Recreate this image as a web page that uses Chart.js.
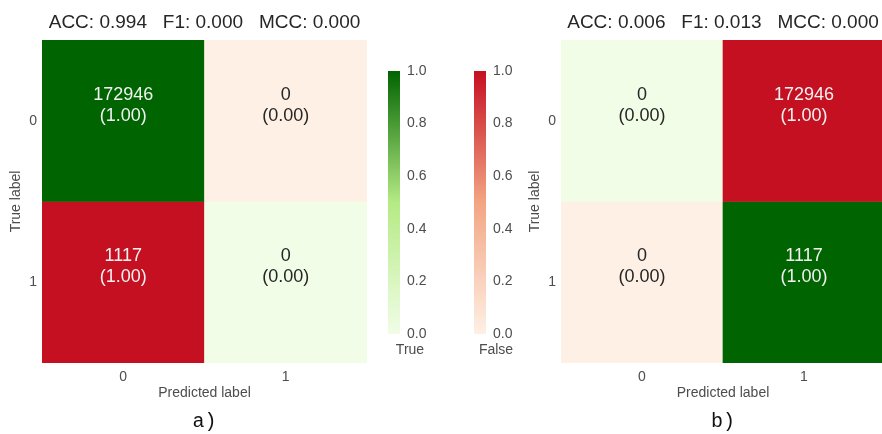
<!DOCTYPE html>
<html>
<head>
<meta charset="utf-8">
<script src="https://cdn.jsdelivr.net/npm/chart.js@4.4.1/dist/chart.umd.min.js"></script>
<style>
  html, body { margin: 0; padding: 0; background: #ffffff; overflow: hidden; }
  #stage { position: relative; width: 882px; height: 434px; overflow: hidden; }
  #stage canvas { position: absolute; top: 0; }
</style>
</head>
<body>
<div id="stage">
  <canvas id="cmA" width="375" height="434" style="left:0px"></canvas>
  <canvas id="cbTrue" width="50" height="434" style="left:380px"></canvas>
  <canvas id="cbFalse" width="50" height="434" style="left:466px"></canvas>
  <canvas id="cmB" width="366" height="434" style="left:519px"></canvas>
</div>
<script>
// ---- data ----
const classes = ['0', '1'];
const metricNames = ['ACC', 'F1', 'MCC'];

const countsA = [[172946, 0], [1117, 0]];
const ratesA = [[1.00, 0.00], [1.00, 0.00]];
const metricsA = [0.994, 0.000, 0.000];

const countsB = [[0, 172946], [0, 1117]];
const ratesB = [[0.00, 1.00], [0.00, 1.00]];
const metricsB = [0.006, 0.013, 0.000];

const colorbarTicks = [0.0, 0.2, 0.4, 0.6, 0.8, 1.0];
const colorbarLabels = ['True', 'False'];
const panelCaptions = ['a)', 'b)'];

// ---- styling ----
const SANS = '"Liberation Sans", Arial, sans-serif';
const MONO = '"Liberation Mono", "Courier New", monospace';
const TITLE_COLOR = '#262626';
const LABEL_COLOR = '#4d4d4d';
const NO_GRID = { display: false, drawTicks: false };

// colour maps: correct predictions in green, wrong ones in red
const greenStops = [[0, [241, 253, 231]], [0.5, [181, 234, 132]], [1, [0, 100, 0]]];
const redStops = [[0, [254, 240, 229]], [0.5, [243, 165, 131]], [1, [197, 16, 33]]];

function rgb(c) { return `rgb(${c.map(Math.round).join(',')})`; }

function cmap(stops, t) {
  for (let k = 1; k < stops.length; k++) {
    const [t0, c0] = stops[k - 1];
    const [t1, c1] = stops[k];
    if (t <= t1) {
      const f = (t - t0) / (t1 - t0);
      return rgb(c0.map((v, n) => v + (c1[n] - v) * f));
    }
  }
  return rgb(stops[stops.length - 1][1]);
}

function cellColor(i, j, rate) {
  return cmap(i === j ? greenStops : redStops, rate);
}

// writes the count and the row-normalised rate into each cell
const cellTextPlugin = {
  id: 'cellText',
  afterDatasetsDraw(chart, args, opts) {
    const { ctx, scales: { x, y } } = chart;
    ctx.save();
    ctx.font = `18px ${SANS}`;
    ctx.textAlign = 'center';
    ctx.textBaseline = 'middle';
    opts.counts.forEach((row, i) => {
      row.forEach((count, j) => {
        const rate = opts.rates[i][j];
        const cx = x.getPixelForValue(j);
        const cy = y.getPixelForValue(i + 0.5);
        ctx.fillStyle = rate > 0.5 ? '#f2f2f2' : TITLE_COLOR;
        ctx.fillText(String(count), cx, cy - 26);
        ctx.fillText(`(${rate.toFixed(2)})`, cx, cy - 5);
      });
    });
    ctx.restore();
  }
};

function metricTitle(values) {
  return metricNames.map((n, k) => `${n}: ${values[k].toFixed(3)}`).join('   ');
}

function heatmap(id, counts, rates, metrics, caption, padRight) {
  const datasets = counts.map((row, i) => ({
    data: row.map(() => [i, i + 1]),
    backgroundColor: row.map((_, j) => cellColor(i, j, rates[i][j])),
    borderWidth: 0,
    barPercentage: 1,
    categoryPercentage: 1,
    grouped: false
  }));
  new Chart(document.getElementById(id), {
    type: 'bar',
    data: { labels: classes, datasets },
    options: {
      responsive: false,
      animation: false,
      events: [],
      layout: { padding: { left: 0, right: padRight, top: 0, bottom: 0 } },
      scales: {
        x: {
          grid: NO_GRID,
          border: { display: false },
          ticks: { color: LABEL_COLOR, font: { family: SANS, size: 14 }, padding: 6 },
          title: {
            display: true, text: 'Predicted label', color: LABEL_COLOR,
            font: { family: SANS, size: 14 }, padding: { top: 0, bottom: 2 }
          },
          afterFit: s => { s.height = 40.4; }
        },
        y: {
          type: 'linear', min: 0, max: 2, reverse: true,
          grid: NO_GRID,
          border: { display: false },
          afterBuildTicks: s => { s.ticks = classes.map((_, i) => ({ value: i + 0.5 })); },
          ticks: {
            color: LABEL_COLOR, font: { family: SANS, size: 14 }, padding: 5,
            callback: v => classes[Math.floor(v)]
          },
          title: {
            display: true, text: 'True label', color: LABEL_COLOR,
            font: { family: SANS, size: 14 }, padding: { top: 7.6, bottom: 0 }
          },
          afterFit: s => { s.width = 42; }
        }
      },
      plugins: {
        legend: { display: false },
        tooltip: { enabled: false },
        title: {
          display: true, fullSize: false, text: metricTitle(metrics), color: TITLE_COLOR,
          font: { family: SANS, size: 19, weight: 'normal' }, padding: { top: 11.6, bottom: 5.6 }
        },
        subtitle: {
          display: true, position: 'bottom', fullSize: false, text: caption, color: '#111111',
          font: { family: MONO, size: 20, weight: 'normal' }, padding: { top: 6, bottom: 0.6 }
        },
        cellText: { counts, rates }
      }
    },
    plugins: [cellTextPlugin]
  });
}

function colorbar(id, label, stops) {
  new Chart(document.getElementById(id), {
    type: 'bar',
    data: {
      labels: [label],
      datasets: [{
        data: [[0, 1]],
        borderWidth: 0,
        barPercentage: 1,
        categoryPercentage: 1,
        backgroundColor: ctx => {
          const area = ctx.chart.chartArea;
          if (!area) return null;
          const g = ctx.chart.ctx.createLinearGradient(0, area.bottom, 0, area.top);
          stops.forEach(([t, c]) => g.addColorStop(t, rgb(c)));
          return g;
        }
      }]
    },
    options: {
      responsive: false,
      animation: false,
      events: [],
      layout: { padding: { left: 8, right: 0, top: 71, bottom: 70 } },
      scales: {
        x: {
          grid: NO_GRID,
          border: { display: false },
          ticks: { color: LABEL_COLOR, font: { family: SANS, size: 14 }, padding: 8, labelOffset: 16 },
          // the label sits beside the narrow bar; keep it from widening the plot margins
          afterFit: s => { s.height = 30; s.paddingLeft = 0; s.paddingRight = 0; }
        },
        y: {
          position: 'right', min: 0, max: 1,
          grid: NO_GRID,
          border: { display: false },
          afterBuildTicks: s => { s.ticks = colorbarTicks.map(v => ({ value: v })); },
          ticks: {
            color: LABEL_COLOR, font: { family: SANS, size: 14 }, padding: 7,
            callback: v => Number(v).toFixed(1)
          },
          afterFit: s => { s.width = 30; s.paddingTop = 0; s.paddingBottom = 0; }
        }
      },
      plugins: { legend: { display: false }, tooltip: { enabled: false } }
    }
  });
}

heatmap('cmA', countsA, ratesA, metricsA, panelCaptions[0], 8);
colorbar('cbTrue', colorbarLabels[0], greenStops);
colorbar('cbFalse', colorbarLabels[1], redStops);
heatmap('cmB', countsB, ratesB, metricsB, panelCaptions[1], 0);
</script>
</body>
</html>
